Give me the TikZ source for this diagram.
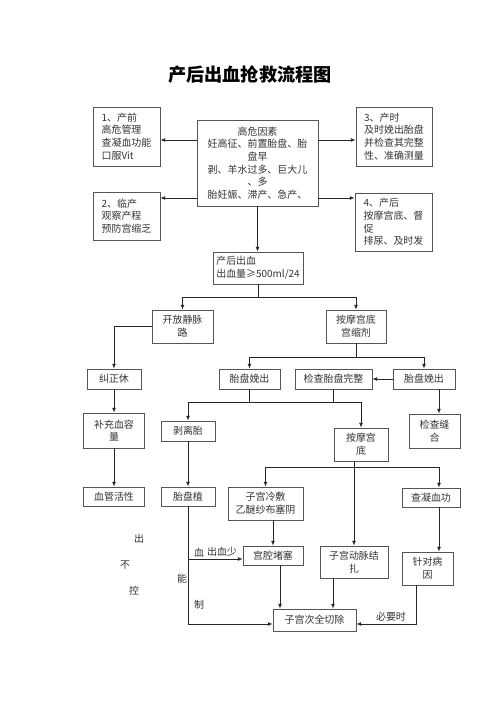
\documentclass[tikz,border=0pt]{standalone}
\usepackage{fontspec}
\setmainfont{Noto Sans CJK SC}
\usepackage{xcolor}
\usetikzlibrary{arrows.meta,positioning,calc}
\definecolor{boxline}{RGB}{85,85,85}
\tikzset{
    box/.style={rectangle, draw=boxline, line width=0.6pt, align=center, inner sep=1pt, font=\fontsize{8.5}{10.8}\selectfont, text=black!80},
    leftbox/.style={box, align=left},
    sz/.style 2 args={minimum width=#1*0.03cm, minimum height=#2*0.03cm},
    connection/.style={line width=0.7pt, draw=black!85, -{Latex[length=4pt,width=3.2pt]}},
    link/.style={line width=0.7pt, draw=black!85},
    note/.style={font=\fontsize{8.5}{10}\selectfont, text=black!80, inner sep=0pt}
}

\begin{document}
\begin{tikzpicture}[x=0.03cm, y=-0.03cm]
    \useasboundingbox[fill=white] (0,0) rectangle (500,707);

    % Title
    \node[font=\fontsize{15.5}{18}\selectfont\bfseries] (title) at (250,75) {产后出血抢救流程图};

    % Risk factors and prevention
    \node[box, sz={121}{86}] (risk) at (257.5,163) {高危因素\\妊高征、前置胎盘、胎\\盘早\\剥、羊水过多、巨大儿\\、多\\胎妊娠、滞产、急产、};
    \node[leftbox, sz={67}{59}] (pre1) at (126.5,136.5) {1、产前\\高危管理\\查凝血功能\\口服Vit};
    \node[leftbox, sz={76}{59}] (dur3) at (394,136.5) {3、产时\\及时娩出胎盘\\并检查其完整\\性、准确测量};
    \node[leftbox, sz={67}{48}] (lab2) at (126.5,216) {2、临产\\观察产程\\预防宫缩乏};
    \node[leftbox, sz={77}{58}] (post4) at (393.5,222) {4、产后\\按摩宫底、督\\促\\排尿、及时发};

    % Bleeding
    \node[leftbox, sz={90}{32}] (pph) at (258,268) {产后出血\\出血量≥500ml/24};
    \node[box, sz={61}{33}] (iv) at (182.5,326.5) {开放静脉\\路};
    \node[box, sz={60}{33}] (mass1) at (356,326.5) {按摩宫底\\宫缩剂};

    % Left column
    \node[box, sz={54}{20}] (shock) at (114,379) {纠正休};
    \node[box, sz={61}{35}] (vol) at (114,430.5) {补充血容\\量};
    \node[box, sz={61}{19}] (vasc) at (114,496.5) {血管活性};

    % Placenta row
    \node[box, sz={61}{20}] (placL) at (249.5,379) {胎盘娩出};
    \node[box, sz={77}{20}] (check) at (333.5,379) {检查胎盘完整};
    \node[box, sz={62}{20}] (placR) at (424,379) {胎盘娩出};
    \node[box, sz={51}{34}] (suture) at (434.5,431) {检查缝\\合};

    \node[box, sz={54}{20}] (strip) at (188,431) {剥离胎};
    \node[box, sz={54}{33}] (mass2) at (361,444.5) {按摩宫\\底};
    \node[box, sz={54}{19}] (acc) at (188,496.5) {胎盘植};
    \node[box, sz={75}{33}] (cold) at (265.5,503.5) {子宫冷敷\\乙醚纱布塞阴};
    \node[box, sz={58}{19}] (coag) at (431,497.5) {查凝血功};

    % Bottom row
    \node[box, sz={60}{19}] (pack) at (273,555.5) {宫腔堵塞};
    \node[box, sz={68}{32}] (ligate) at (354,562) {子宫动脉结\\扎};
    \node[box, sz={51}{33}] (cause) at (427.5,568.5) {针对病\\因};
    \node[box, sz={83}{22}] (hyst) at (314.5,620) {子宫次全切除};

    % Loose labels
    \node[note] (n1) at (139,539) {出};
    \node[note] (n2) at (125,565) {不};
    \node[note] (n3) at (134,591) {控};
    \node[note] (n4) at (182,579) {能};
    \node[note] (n5) at (199,605) {制};
    \node[note] (n6) at (199,552) {血};
    \node[note] (n7) at (222,552) {出血少};
    \node[note] (n8) at (391,617) {必要时};

    % Arrows from risk box
    \draw[connection] (risk.west |- 0,140) -- (pre1.east |- 0,140);
    \draw[connection] (risk.east |- 0,140) -- (dur3.west |- 0,140);
    \draw[connection] (risk.west |- 0,198) -- (lab2.east |- 0,198);
    \draw[connection] (risk.east |- 0,198) -- (post4.west |- 0,198);
    \draw[connection] (risk.south) -- (risk.south |- pph.north);

    % First split
    \draw[link] (pph.south) -- (pph.south |- 0,297) coordinate (bus1);
    \draw[connection] (bus1) -| (iv.north);
    \draw[connection] (bus1) -| (mass1.north);
    \draw[connection] (iv.west) -| (shock.north);
    \draw[connection] (shock.south) -- (vol.north);
    \draw[connection] (vol.south) -- (vasc.north);

    % Placenta split
    \draw[link] (mass1.south) -- (mass1.south |- 0,357) coordinate (bus2);
    \draw[connection] (bus2) -| (placL.north);
    \draw[connection] (bus2) -| (placR.north);
    \draw[connection] (placR.west) -- (check.east);
    \draw[connection] (439,0 |- placR.south) -- (439,0 |- suture.north);

    \draw[link] (placL.south) -- (placL.south |- 0,402) coordinate (bus3);
    \draw[link] (check.south) -- (check.south |- bus3);
    \draw[connection] (bus3) -| (strip.north);
    \draw[connection] (bus3) -| (mass2.north);
    \draw[connection] (strip.south) -- (acc.north);

    % Uterine massage split
    \draw[connection] (ligate.north |- mass2.south) -- (ligate.north);
    \coordinate (bus4) at (ligate.north |- 0,467);
    \draw[connection] (bus4) -| (cold.north);
    \draw[connection] (bus4) -| (439,0 |- coag.north);

    % Down to hysterectomy
    \draw[connection] (cold.south -| pack) -- (pack.north);
    \draw[connection] (acc.south) |- (hyst.west |- 0,624);
    \draw[connection] (acc.south |- 0,559) -- (pack.west |- 0,559);
    \draw[connection] (280,0 |- pack.south) -- (280,0 |- hyst.north);
    \draw[connection] (333,0 |- ligate.south) -- (333,0 |- hyst.north);
    \draw[connection] (439,0 |- coag.south) -- (439,0 |- cause.north);
    \draw[connection] (416,0 |- cause.south) |- (hyst.east |- 0,624);
\end{tikzpicture}
\end{document}
